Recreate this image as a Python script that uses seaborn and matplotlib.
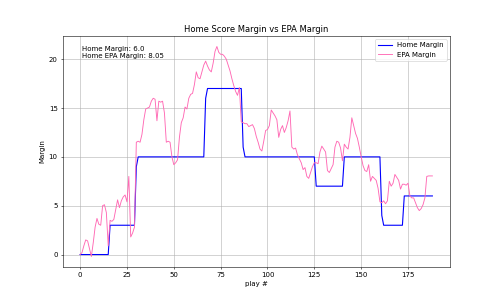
import matplotlib
matplotlib.use("Agg")
import matplotlib.pyplot as plt
import seaborn as sns
import pandas as pd

home_margin = ([0] * 16 + [3] * 14 + [9] + [10] * 36 + [16] + [17] * 19 + [11]
               + [10] * 38 + [7] * 15 + [10] * 20 + [4] + [3] * 11 + [6] * 16)

epa_margin = [
    0.0, 0.2, 0.9, 1.5, 1.4, 0.6, -0.2, 1.2, 2.8, 3.7,
    3.1, 3.0, 5.0, 5.1, 4.3, 0.9, 3.5, 3.4, 3.6, 4.6,
    5.6, 4.8, 5.5, 5.9, 6.1, 5.4, 8.0, 1.8, 2.2, 2.8,
    11.5, 11.6, 11.5, 12.3, 13.8, 14.9, 15.0, 15.1, 15.7, 16.0,
    15.9, 13.7, 15.7, 15.6, 15.7, 14.5, 11.5, 11.6, 11.5, 10.0,
    9.2, 9.4, 9.7, 12.0, 13.5, 14.0, 15.1, 14.9, 16.0, 16.4,
    16.5, 17.4, 18.7, 18.1, 18.0, 18.7, 19.4, 19.8, 19.3, 18.9,
    18.7, 19.6, 20.8, 21.3, 20.7, 20.5, 20.5, 20.3, 20.0, 19.4,
    18.8, 18.0, 17.3, 16.7, 16.3, 17.1, 13.6, 13.5, 13.4, 13.4,
    13.1, 13.2, 13.3, 12.9, 12.1, 11.5, 10.8, 10.6, 11.6, 12.7,
    12.8, 13.2, 14.8, 14.5, 14.2, 13.8, 12.0, 12.8, 13.2, 12.5,
    13.0, 13.7, 14.7, 11.0, 10.8, 10.9, 10.2, 9.8, 9.4, 8.7,
    8.9, 8.0, 7.8, 8.4, 9.0, 9.4, 9.4, 9.3, 10.5, 11.1,
    10.8, 10.5, 8.6, 8.4, 8.8, 9.2, 11.0, 11.6, 11.5, 10.9,
    9.6, 11.3, 11.0, 10.8, 12.0, 14.0, 13.2, 12.4, 11.9, 11.0,
    10.0, 9.1, 8.6, 8.5, 9.2, 7.5, 8.0, 7.8, 7.6, 6.8,
    5.4, 5.3, 5.5, 5.2, 5.5, 7.5, 7.0, 7.3, 8.2, 7.9,
    7.6, 6.7, 7.2, 7.2, 7.1, 7.3, 6.0, 5.8, 5.8, 5.3,
    4.8, 4.5, 4.7, 5.1, 5.8, 8.0, 8.05, 8.05, 8.05,
]

plays = list(range(len(home_margin)))
df = pd.DataFrame({"play": plays, "home": home_margin, "epa": epa_margin})

fig, ax = plt.subplots(figsize=(10, 6), dpi=50)
sns.lineplot(data=df, x="play", y="home", color="blue", linewidth=1.6,
             label="Home Margin", ax=ax)
sns.lineplot(data=df, x="play", y="epa", color="hotpink", linewidth=1.3,
             label="EPA Margin", ax=ax)
ax.grid(True)
ax.set_title("Home Score Margin vs EPA Margin")
ax.set_xlabel("play #")
ax.set_ylabel("Margin")
ax.legend(loc="upper right")
ax.text(0.05, 0.955, f"Home Margin: {float(home_margin[-1])}\nHome EPA Margin: {epa_margin[-1]}",
        transform=ax.transAxes, va="top", ha="left")
fig.savefig("out.png", dpi=50)
